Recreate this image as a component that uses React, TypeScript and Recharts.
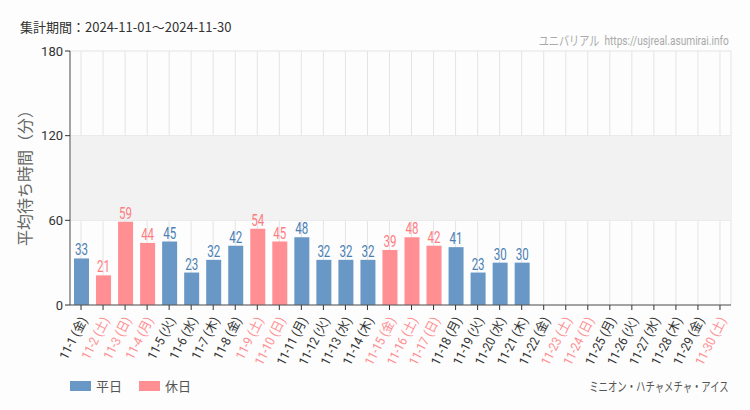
import { BarChart, Bar, XAxis, YAxis, CartesianGrid, ReferenceArea, LabelList } from 'recharts';

const days = [
  '11-1', '11-2', '11-3', '11-4', '11-5', '11-6', '11-7', '11-8', '11-9', '11-10',
  '11-11', '11-12', '11-13', '11-14', '11-15', '11-16', '11-17', '11-18', '11-19', '11-20',
  '11-21', '11-22', '11-23', '11-24', '11-25', '11-26', '11-27', '11-28', '11-29', '11-30',
];
const dows = [
  '金', '土', '日', '月', '火', '水', '木', '金', '土', '日',
  '月', '火', '水', '木', '金', '土', '日', '月', '火', '水',
  '木', '金', '土', '日', '月', '火', '水', '木', '金', '土',
];
const holidays = [
  false, true, true, true, false, false, false, false, true, true,
  false, false, false, false, true, true, true, false, false, false,
  false, false, true, true, false, false, false, false, false, true,
];
const waits: (number | null)[] = [
  33, 21, 59, 44, 45, 23, 32, 42, 54, 45,
  48, 32, 32, 32, 39, 48, 42, 41, 23, 30,
  30, null, null, null, null, null, null, null, null, null,
];
const yTicks = [0, 60, 120, 180];

const BLUE = '#6a98c6';
const PINK = '#ff8f93';
const BLUE_TXT = '#4a7fb6';
const PINK_TXT = '#ff7c82';
const NUM_FONT = "'Roboto', 'Noto Sans CJK JP', sans-serif";
const JP_FONT = "'Noto Sans CJK JP', sans-serif";

const data = days.map((d, i) => ({
  label: `${d} (${dows[i]})`,
  weekday: holidays[i] ? null : waits[i],
  rest: holidays[i] ? waits[i] : null,
}));

function DayTick(props: any) {
  const { x, y, payload, index } = props;
  const hol = holidays[index];
  return (
    <g transform={`translate(${x + 3},${y + 6})`}>
      <text
        transform="rotate(-63) scale(0.9,1)"
        textAnchor="end"
        dy={4}
        fontSize={13}
        fontFamily={NUM_FONT}
        fill={hol ? PINK : '#333'}
      >
        {payload.value}
      </text>
    </g>
  );
}

// narrow number labels above the bars
const valueLabel = (color: string) => (props: any) => {
  const { x, y, width, value } = props;
  if (value == null) return null;
  const cx = Number(x) + Number(width) / 2;
  return (
    <g transform={`translate(${cx},${Number(y) - 3}) scale(0.72,1)`}>
      <text textAnchor="middle" fontSize={16} fontFamily={NUM_FONT} fill={color}>
        {value}
      </text>
    </g>
  );
};

export default function App() {
  return (
    <div style={{ position: 'absolute', left: 0, top: 0, width: 750, height: 410, background: '#fcfdfc' }}>
      <div style={{ position: 'absolute', left: 20, top: 17, fontSize: 13, color: '#333', fontFamily: JP_FONT }}>
        集計期間：2024-11-01～2024-11-30
      </div>
      <div
        style={{
          position: 'absolute', right: 21, top: 30, fontSize: 13, color: '#aaa', fontFamily: NUM_FONT,
          transform: 'scaleX(0.78)', transformOrigin: 'right center', whiteSpace: 'nowrap',
        }}
      >
        ユニバリアル&nbsp; https://usjreal.asumirai.info
      </div>
      <BarChart
        width={750}
        height={410}
        data={data}
        margin={{ top: 51, right: 19, left: 0, bottom: 0 }}
        barSize={15}
      >
        <ReferenceArea y1={60} y2={120} fill="#f1f2f1" fillOpacity={1} stroke="none" />
        <CartesianGrid stroke="#e4e4e4" />
        <XAxis
          dataKey="label"
          interval={0}
          height={105}
          tick={<DayTick />}
          tickLine={{ stroke: '#333' }}
          axisLine={{ stroke: '#555' }}
          tickSize={5}
        />
        <YAxis
          width={70}
          domain={[0, 180]}
          ticks={yTicks}
          tick={{ fontSize: 13, fill: '#333', fontFamily: NUM_FONT }}
          tickLine={{ stroke: '#333' }}
          axisLine={{ stroke: '#555' }}
          tickSize={5}
          label={{
            value: '平均待ち時間（分）',
            angle: -90,
            position: 'center',
            dx: -10,
            dy: -4,
            fontSize: 16,
            fill: '#666',
            fontFamily: JP_FONT,
          }}
        />
        <Bar dataKey="weekday" stackId="a" fill={BLUE} isAnimationActive={false}>
          <LabelList dataKey="weekday" content={valueLabel(BLUE_TXT)} />
        </Bar>
        <Bar dataKey="rest" stackId="a" fill={PINK} isAnimationActive={false}>
          <LabelList dataKey="rest" content={valueLabel(PINK_TXT)} />
        </Bar>
      </BarChart>
      <div style={{ position: 'absolute', left: 70, top: 376, display: 'flex', alignItems: 'center', fontSize: 13, color: '#555', fontFamily: JP_FONT }}>
        <span style={{ display: 'inline-block', width: 21, height: 10, background: BLUE, marginRight: 5 }} />
        <span style={{ marginRight: 17 }}>平日</span>
        <span style={{ display: 'inline-block', width: 21, height: 10, background: PINK, marginRight: 5 }} />
        <span>休日</span>
      </div>
      <div
        style={{
          position: 'absolute', right: 21, top: 376, fontSize: 13, color: '#555', fontFamily: JP_FONT,
          transform: 'scaleX(0.72)', transformOrigin: 'right center', whiteSpace: 'nowrap',
        }}
      >
        ミニオン・ハチャメチャ・アイス
      </div>
    </div>
  );
}
